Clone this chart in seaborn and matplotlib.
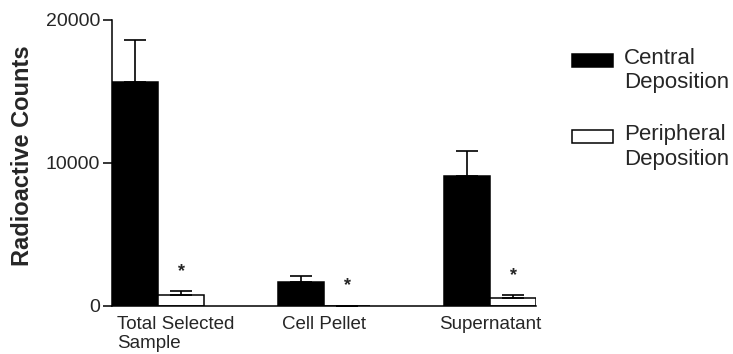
import numpy as np
import pandas as pd
import matplotlib
matplotlib.use("Agg")
import matplotlib.pyplot as plt
import matplotlib.transforms as mtransforms
from matplotlib.patches import Patch
import seaborn as sns

# values
categories = ["Total Selected\nSample", "Cell Pellet", "Supernatant"]
central_mean = [15650, 1700, 9100]
central_sem = [2950, 380, 1760]
peripheral_mean = [800, 30, 560]
peripheral_sem = [260, 0, 220]
groups = ["Central", "Peripheral"]
legend_labels = ["Central\nDeposition", "Peripheral\nDeposition"]
y_ticks = [0, 10000, 20000]
significant = [True, True, True]  # star over peripheral bar

df = pd.DataFrame({
    "Sample": categories * 2,
    "Deposition": ["Central"] * 3 + ["Peripheral"] * 3,
    "Counts": central_mean + peripheral_mean,
    "SEM": central_sem + peripheral_sem,
})

sns.set_style("ticks")
plt.rcParams["font.family"] = ["Liberation Sans", "DejaVu Sans"]

fig = plt.figure(figsize=(7.33, 3.54), dpi=100)
ax = fig.add_axes([0.1528, 0.1356, 0.5785, 0.808])

sns.barplot(data=df, x="Sample", y="Counts", hue="Deposition", hue_order=groups,
            palette={"Central": "black", "Peripheral": "white"},
            edgecolor="black", linewidth=1.1, width=0.555, errorbar=None, ax=ax)

# one-sided (upper) error bars + significance stars
for cont, lvl in zip(ax.containers, groups):
    sub = df[df["Deposition"] == lvl]
    xs = np.array([b.get_x() + b.get_width() / 2 for b in cont])
    hs = sub["Counts"].values
    errs = sub["SEM"].values
    ax.errorbar(xs, hs, yerr=[np.zeros_like(errs), errs], fmt="none",
                ecolor="black", elinewidth=1.2, capsize=8.25, capthick=1.2, zorder=3)
    if lvl == "Peripheral":
        for x, h, e, s in zip(xs, hs, errs, significant):
            if s:
                ax.annotate("*", (x, h + e), xytext=(0, 8), textcoords="offset points",
                            ha="center", va="bottom", fontsize=13, fontweight="bold")

ax.set_ylim(0, 20000)
ax.set_xlim(-0.2775, 2.2775)
ax.set_yticks(y_ticks)
ax.set_yticklabels([str(t) for t in y_ticks], fontsize=14)
ax.tick_params(axis="y", length=6.5, width=1.1, pad=2, color="black")
ax.tick_params(axis="x", length=0, pad=7, labelsize=13.5)
for sp in ["left", "bottom"]:
    ax.spines[sp].set_linewidth(1.1)
    ax.spines[sp].set_color("black")
sns.despine(ax=ax)

ax.set_xlabel("")
ax.set_ylabel("Radioactive Counts", fontsize=17, fontweight="bold")
ax.yaxis.set_label_coords(-0.185, 0.525)

# first category label is left aligned under its bars
first = ax.get_xticklabels()[0]
first.set_horizontalalignment("left")
first.set_multialignment("left")
first.set_transform(first.get_transform() +
                    mtransforms.ScaledTranslation(-41 / 100, 0, fig.dpi_scale_trans))

ax.get_legend().remove()
handles = [Patch(facecolor="black", edgecolor="black", linewidth=1.1),
           Patch(facecolor="white", edgecolor="black", linewidth=1.1)]
leg = fig.legend(handles, legend_labels, loc="upper left", bbox_to_anchor=(572 / 733, 1 - 48 / 354),
                 frameon=False, fontsize=16, borderpad=0, borderaxespad=0,
                 handlelength=1.85, handleheight=0.5, handletextpad=0.5, labelspacing=1.4)
# put the swatch beside the first line of each label
for h in leg.legend_handles:
    h.set_y(h.get_y() + 7.5)

fig.savefig("out.png", dpi=100)
